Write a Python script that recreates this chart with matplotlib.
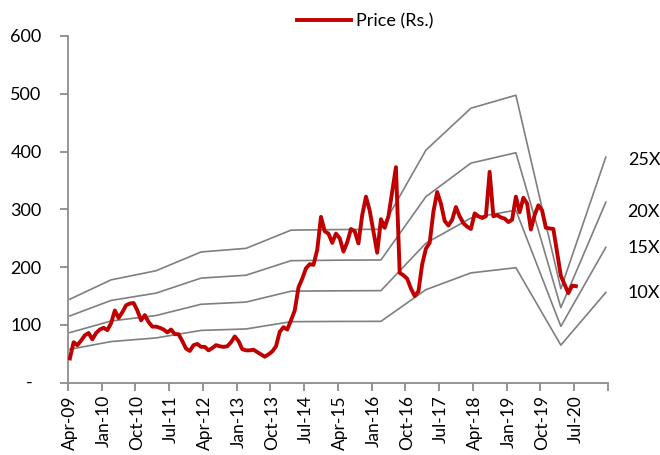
import matplotlib
matplotlib.use("Agg")
import matplotlib.pyplot as plt
from matplotlib.ticker import FixedLocator, FixedFormatter, NullFormatter

plt.rcParams['font.family'] = ['Lato', 'DejaVu Sans']

# ---- data ----
price = [42, 70, 65, 73, 82, 86, 75, 86, 92, 95, 91, 103, 125, 112, 122, 134, 137, 138,
         125, 108, 117, 105, 97, 97, 95, 92, 87, 92, 84, 84, 72, 59, 55, 65, 67, 62,
         62, 56, 60, 65, 63, 62, 63, 70, 80, 72, 58, 56, 56, 57, 53, 49, 45, 49,
         54, 63, 88, 96, 92, 108, 125, 165, 180, 198, 205, 204, 230, 287, 262, 258,
         242, 258, 250, 227, 243, 266, 262, 241, 290, 322, 298, 262, 225, 283, 268, 288,
         330, 373, 190, 186, 180, 163, 150, 158, 205, 232, 242, 296, 330, 310, 280, 272,
         282, 304, 288, 276, 270, 266, 293, 288, 285, 288, 365, 288, 290, 286, 284, 278,
         282, 322, 295, 320, 310, 265, 290, 307, 298, 268, 267, 266, 225, 185, 170, 155,
         168, 167]
eps_month = [0, 11, 23, 35, 47, 59, 71, 83, 95, 107, 119, 131, 143]
eps = [5.78, 7.12, 7.75, 9.05, 9.3, 10.56, 10.6, 10.62, 16.1, 19.0, 19.9, 6.5, 15.62]
multiples = [10, 15, 20, 25]
band_labels = ["10X", "15X", "20X", "25X"]
tick_labels = ["Apr-09", "Jan-10", "Oct-10", "Jul-11", "Apr-12", "Jan-13", "Oct-13",
               "Jul-14", "Apr-15", "Jan-16", "Oct-16", "Jul-17", "Apr-18", "Jan-19",
               "Oct-19", "Jul-20"]
n_months = 144
y_ticks = [0, 100, 200, 300, 400, 500, 600]

# ---- figure ----
W, H = 660, 455
fig = plt.figure(figsize=(W / 100, H / 100), dpi=100)
ax = fig.add_axes([68 / W, 1 - 382.7 / H, (607.7 - 68) / W, (382.7 - 36) / H])

gray = '#7F7F7F'
for m in multiples:
    ax.plot(eps_month, [e * m for e in eps], color=gray, lw=1.2, zorder=2)

ax.plot(range(len(price)), price, color='#C00000', lw=2.8, zorder=3,
        solid_joinstyle='round', label='Price (Rs.)')

ax.set_xlim(-0.5, n_months - 0.5)
ax.set_ylim(0, 600)

axis_col = '#8C8C8C'
for s in ['top', 'right']:
    ax.spines[s].set_visible(False)
for s in ['left', 'bottom']:
    ax.spines[s].set_color(axis_col)
    ax.spines[s].set_linewidth(1.3)

fs = 13
# x ticks: marks between categories, labels at category centres
ax.xaxis.set_major_locator(FixedLocator([-0.5 + 9 * k for k in range(17)]))
ax.xaxis.set_major_formatter(NullFormatter())
ax.xaxis.set_minor_locator(FixedLocator([9 * k for k in range(len(tick_labels))]))
ax.xaxis.set_minor_formatter(FixedFormatter(tick_labels))
ax.tick_params(axis='x', which='major', direction='out', length=6, width=1.3, color=axis_col)
ax.tick_params(axis='x', which='minor', length=0, pad=9, labelsize=12.5, labelrotation=90,
               labelcolor='black')

ax.set_yticks(y_ticks)
ax.set_yticklabels([''] + [str(v) for v in y_ticks[1:]])
ax.tick_params(axis='y', direction='out', length=6, width=1.3, color=axis_col,
               pad=13, labelsize=fs, labelcolor='black')
ax.text(-0.065, 0, '-', transform=ax.get_yaxis_transform(), ha='right', va='center',
        fontsize=fs, color='black')

leg = fig.legend(loc='center left', bbox_to_anchor=(297 / W, 1 - 21 / H), frameon=False,
                 fontsize=fs, handlelength=3.0, handletextpad=0.25, borderpad=0,
                 borderaxespad=0)

label_pos = {"25X": (628, 160), "20X": (627, 212.3), "15X": (628, 248.3), "10X": (628, 293.3)}
for lab in band_labels:
    px, py = label_pos[lab]
    fig.text(px / W, 1 - py / H, lab, fontsize=fs, ha='left', va='center', color='black')

fig.savefig('out.png', dpi=100)
